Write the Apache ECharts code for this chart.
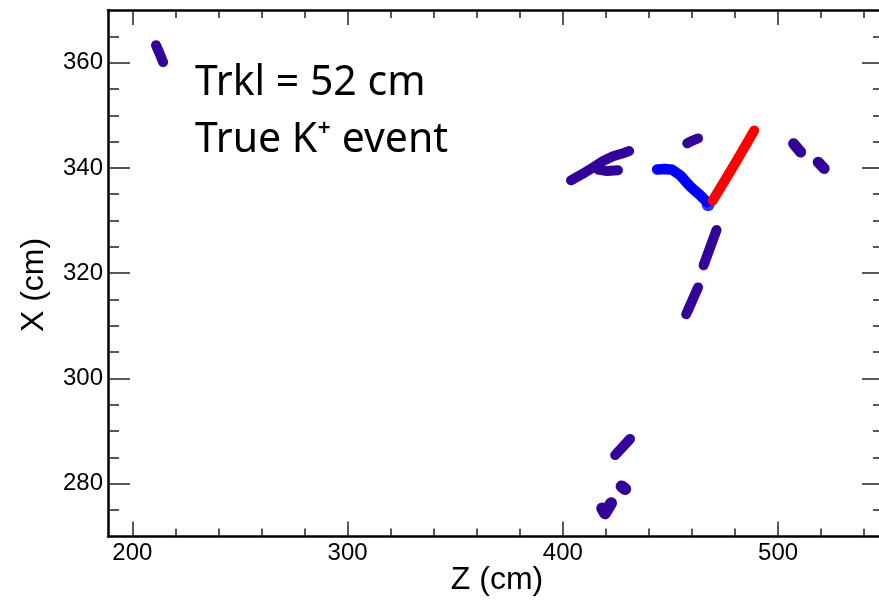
<!DOCTYPE html>
<html>
<head>
<meta charset="utf-8">
<script src="https://cdn.jsdelivr.net/npm/echarts@6/dist/echarts.min.js"></script>
<style>
html,body{margin:0;padding:0;background:#fff;}
#chart{width:879px;height:602px;}
</style>
</head>
<body>
<div id="chart"></div>
<script>
// Axis ranges and tick values
const xRange = [188.7, 549.2];
const yRange = [270, 370];
const xMajorTicks = [200, 300, 400, 500];
const xMinorTicks = [220, 240, 260, 280, 320, 340, 360, 380, 420, 440, 460, 480, 520, 540];
const yMajorTicks = [280, 300, 320, 340, 360];
const yMinorTicks = [275, 285, 290, 295, 305, 310, 315, 325, 330, 335, 345, 350, 355, 365];

// Track hits (Z, X) in cm
const trackTopLeft = [[211.0, 363.3], [212.4, 362.0], [214.3, 360.1]];
const trackArm = [[403.8, 337.65], [408.9, 338.8], [414.05, 340.1], [418.7, 341.3], [423.3, 342.2], [428.0, 342.8], [430.8, 343.2]];
const trackHook = [[416.3, 339.7], [420.5, 339.4], [425.6, 339.55]];
const trackSmall = [[457.8, 344.7], [460.3, 345.2], [462.8, 345.6]];
const trackRight1 = [[507.2, 344.6], [510.5, 343.0]];
const trackRight2 = [[518.6, 341.1], [521.4, 339.9]];
const trackDown1 = [[471.4, 328.2], [465.4, 321.5]];
const trackDown2 = [[462.8, 317.3], [457.3, 312.2]];
const trackBottom1 = [[424.3, 285.45], [431.2, 288.5]];
const trackBottom2 = [[427.3, 279.5], [429.0, 279.0]];
const trackBottom3 = [[418.3, 275.3], [419.6, 274.4], [422.4, 276.3]];
const trackBlue = [[443.8, 339.7], [447.5, 339.8], [450.8, 339.65], [454.5, 338.6], [459.1, 336.5], [463.8, 334.8], [467.0, 333.5]];
const blueVertex = [[467.5, 333.0]];
const trackRed = [[469.6, 333.8], [480.8, 341.4], [488.9, 347.1]];

const purple = '#330099';
const blue = '#0000ff';
const red = '#ff0000';

const chart = echarts.init(document.getElementById('chart'), null, {renderer: 'canvas'});

function xAxisDef(position, ticks, len, showLine, showLabel) {
  return {
    type: 'value', position: position, min: xRange[0], max: xRange[1],
    axisLine: {show: showLine, onZero: false, lineStyle: {color: '#000', width: 2.5}},
    axisTick: {show: true, inside: true, length: len, customValues: ticks, lineStyle: {color: '#222', width: 1.5}},
    axisLabel: {show: showLabel, customValues: ticks, color: '#000', fontFamily: 'Liberation Sans', fontSize: 24, margin: 5},
    splitLine: {show: false}, minorTick: {show: false}
  };
}
function yAxisDef(position, ticks, len, showLine, showLabel) {
  return {
    type: 'value', position: position, min: yRange[0], max: yRange[1],
    axisLine: {show: showLine, onZero: false, lineStyle: {color: '#000', width: 2.5}},
    axisTick: {show: true, inside: true, length: len, customValues: ticks, lineStyle: {color: '#222', width: 1.5}},
    axisLabel: {show: showLabel, customValues: ticks, color: '#000', fontFamily: 'Liberation Sans', fontSize: 24, margin: 5},
    splitLine: {show: false}, minorTick: {show: false}
  };
}

function track(data, color, width) {
  return {
    type: 'line', data: data, xAxisIndex: 0, yAxisIndex: 0,
    symbol: 'none', silent: true, animation: false,
    lineStyle: {color: color, width: width, cap: 'round', join: 'round'}
  };
}

const option = {
  animation: false,
  backgroundColor: '#fff',
  grid: {left: 108, top: 10, width: 776, height: 526.4, containLabel: false, outerBoundsMode: 'none'},
  xAxis: [
    xAxisDef('bottom', xMajorTicks, 15, true, true),
    xAxisDef('bottom', xMinorTicks, 8, false, false),
    xAxisDef('top', xMajorTicks, 15, true, false),
    xAxisDef('top', xMinorTicks, 8, false, false)
  ],
  yAxis: [
    yAxisDef('left', yMajorTicks, 22, true, true),
    yAxisDef('left', yMinorTicks, 11, false, false),
    yAxisDef('right', yMajorTicks, 22, true, false),
    yAxisDef('right', yMinorTicks, 11, false, false)
  ],
  series: [
    track(trackTopLeft, purple, 10),
    track(trackArm, purple, 10),
    track(trackHook, purple, 10),
    track(trackSmall, purple, 10),
    track(trackRight1, purple, 11),
    track(trackRight2, purple, 11),
    track(trackDown1, purple, 10),
    track(trackDown2, purple, 10),
    track(trackBottom1, purple, 10),
    track(trackBottom2, purple, 12),
    track(trackBottom3, purple, 12),
    track(trackBlue, blue, 10.5),
    {type: 'scatter', data: blueVertex, symbol: 'circle', symbolSize: 13, itemStyle: {color: blue}, silent: true},
    track(trackRed, red, 10)
  ],
  graphic: [
    {type: 'text', left: 195, top: 63, style: {text: 'Trkl = 52 cm', fontFamily: 'Noto Sans', fontSize: 41, fill: '#000'}},
    {type: 'text', left: 195, top: 120, style: {text: 'True K⁺ event', fontFamily: 'Noto Sans', fontSize: 41, fill: '#000'}},
    {type: 'text', x: 497, y: 580, style: {text: 'Z (cm)', fontFamily: 'Liberation Sans', fontSize: 32, fill: '#000', align: 'center', verticalAlign: 'middle'}},
    {type: 'text', x: 34, y: 285, rotation: Math.PI / 2, style: {text: 'X (cm)', fontFamily: 'Liberation Sans', fontSize: 32, fill: '#000', align: 'center', verticalAlign: 'middle'}}
  ]
};
chart.setOption(option);
</script>
</body>
</html>
